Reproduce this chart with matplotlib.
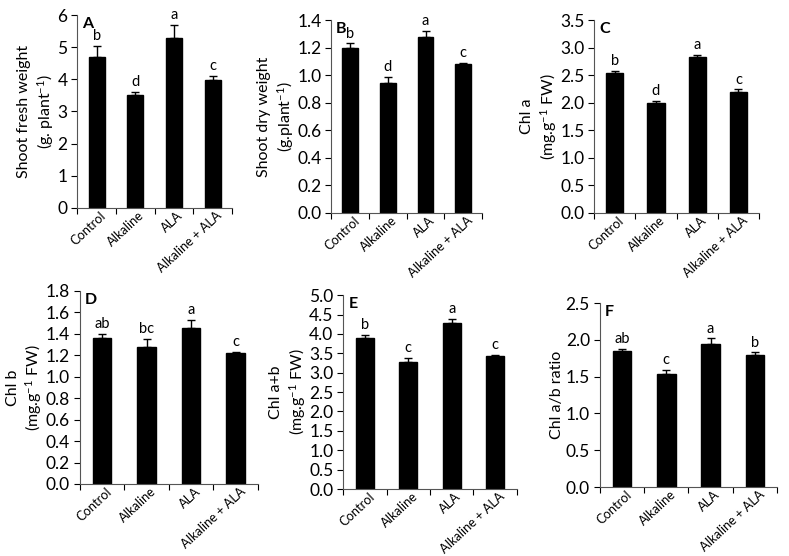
import matplotlib
matplotlib.use("Agg")
from matplotlib import pyplot as plt
import numpy as np

plt.rcParams['font.family'] = ['Lato', 'DejaVu Sans']
plt.rcParams['mathtext.fontset'] = 'custom'
plt.rcParams['mathtext.rm'] = 'Lato'
plt.rcParams['mathtext.it'] = 'Lato:italic'

# ------------------ data ------------------ #
categories = ['Control', 'Alkaline', 'ALA', 'Alkaline + ALA']

fresh_weight = [4.68, 3.52, 5.28, 3.97]
fresh_weight_err = [0.37, 0.08, 0.42, 0.13]
fresh_weight_sig = ['b', 'd', 'a', 'c']

dry_weight = [1.20, 0.94, 1.28, 1.08]
dry_weight_err = [0.03, 0.045, 0.04, 0.01]
dry_weight_sig = ['b', 'd', 'a', 'c']

chl_a = [2.53, 1.99, 2.82, 2.20]
chl_a_err = [0.05, 0.04, 0.05, 0.04]
chl_a_sig = ['b', 'd', 'a', 'c']

chl_b = [1.36, 1.28, 1.45, 1.22]
chl_b_err = [0.04, 0.07, 0.075, 0.01]
chl_b_sig = ['ab', 'bc', 'a', 'c']

chl_ab = [3.90, 3.27, 4.28, 3.42]
chl_ab_err = [0.08, 0.10, 0.10, 0.03]
chl_ab_sig = ['b', 'c', 'a', 'c']

ab_ratio = [1.85, 1.54, 1.94, 1.79]
ab_ratio_err = [0.03, 0.05, 0.08, 0.04]
ab_ratio_sig = ['ab', 'c', 'a', 'b']

# ------------------ panels ------------------ #
panels = [
    # letter, values, errors, signif, ylabel, ymax, ystep, fmt, rect
    ('A', fresh_weight, fresh_weight_err, fresh_weight_sig,
     'Shoot fresh weight\n(g. plant$^{-1}$)', 6, 1, '%d',
     [0.098, 0.626, 0.196, 0.347]),
    ('B', dry_weight, dry_weight_err, dry_weight_sig,
     'Shoot dry weight\n(g.plant$^{-1}$)', 1.4, 0.2, '%.1f',
     [0.420, 0.617, 0.191, 0.347]),
    ('C', chl_a, chl_a_err, chl_a_sig,
     'Chl a\n(mg.g$^{-1}$ FW)', 3.5, 0.5, '%.1f',
     [0.753, 0.617, 0.209, 0.347]),
    ('D', chl_b, chl_b_err, chl_b_sig,
     'Chl b\n(mg.g$^{-1}$ FW)', 1.8, 0.2, '%.1f',
     [0.101, 0.1295, 0.226, 0.3475]),
    ('E', chl_ab, chl_ab_err, chl_ab_sig,
     'Chl a+b\n(mg.g$^{-1}$ FW)', 5.0, 0.5, '%.1f',
     [0.435, 0.1205, 0.220, 0.3485]),
    ('F', ab_ratio, ab_ratio_err, ab_ratio_sig,
     'Chl a/b ratio', 2.5, 0.5, '%.1f',
     [0.760, 0.124, 0.225, 0.331]),
]

fig = plt.figure(figsize=(7.89, 5.56), dpi=100)

for letter, vals, errs, sig, ylabel, ymax, ystep, fmt, rect in panels:
    ax = fig.add_axes(rect)
    x = np.arange(len(categories))
    lower = np.zeros(len(vals))
    ax.bar(x, vals, width=0.42, color='black', edgecolor='black',
           yerr=[lower, errs], capsize=3,
           error_kw=dict(ecolor='black', elinewidth=1, capthick=1))

    # significance letters above the error bars
    for xi, v, e, s in zip(x, vals, errs, sig):
        ax.text(xi, v + e + ymax * 0.015, s, ha='center', va='bottom', fontsize=10.5)

    ax.set_xlim(-0.5, len(categories) - 0.5)
    ax.set_ylim(0, ymax)
    ax.set_yticks(np.arange(0, ymax + ystep / 2, ystep))
    ax.yaxis.set_major_formatter(matplotlib.ticker.FormatStrFormatter(fmt))
    ax.tick_params(axis='y', labelsize=12.5, length=4, direction='out', pad=3)

    # excel style: ticks between categories, labels at centers
    ax.set_xticks(np.arange(-0.5, len(categories), 1.0))
    ax.set_xticklabels([])
    ax.set_xticks(x + 0.08, minor=True)
    ax.set_xticklabels(categories, minor=True, rotation=43, ha='right',
                       rotation_mode='anchor', fontsize=9.3)
    ax.tick_params(axis='x', which='major', length=4, direction='out')
    ax.tick_params(axis='x', which='minor', length=0, pad=1)

    ax.spines['top'].set_visible(False)
    ax.spines['right'].set_visible(False)
    ax.spines['left'].set_color('#555555')
    ax.spines['bottom'].set_color('#555555')

    ax.set_ylabel(ylabel, fontsize=11.5, linespacing=1.25, labelpad=1)
    ax.text(0.03, 0.99, letter, transform=ax.transAxes, fontsize=11.5,
            fontweight='bold', ha='left', va='top')

fig.savefig('out.png', dpi=100)
